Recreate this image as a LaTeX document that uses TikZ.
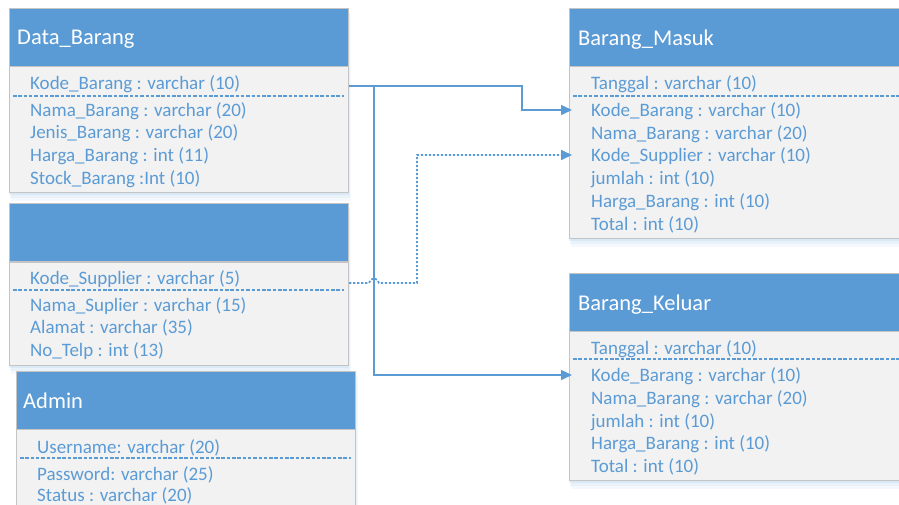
\documentclass[tikz,border=0pt]{standalone}
\usepackage{fontspec}
\setmainfont{Carlito}
\usetikzlibrary{arrows.meta,calc}
\definecolor{hdr}{HTML}{5B9BD5}
\definecolor{bodyfill}{HTML}{F2F2F2}
\definecolor{edge}{HTML}{C4C4C4}
\definecolor{txt}{HTML}{5B9BD5}

\tikzset{
  bodybox/.style={draw=edge, line width=1.2pt, fill=bodyfill, anchor=north west, inner sep=0pt},
  hdrbox/.style={draw=edge, line width=1.2pt, fill=hdr, anchor=north west, inner sep=0pt, minimum height=58pt},
  title/.style={anchor=west, inner sep=0pt, text=white, font=\fontsize{22.5}{24}\selectfont, text height=14pt, text depth=0pt},
  row/.style={anchor=west, inner sep=0pt, text=txt, font=\fontsize{19}{21}\selectfont, text height=12pt, text depth=0pt},
  sep/.style={draw=txt, line width=1.3pt, dash pattern=on 3.5pt off 1.8pt},
  link/.style={draw=hdr, line width=1.5pt},
  fklink/.style={draw=hdr, line width=1.7pt, dash pattern=on 2.2pt off 1.8pt},
  tip/.style={-{Triangle[length=11pt,width=10pt]}},
}

% soft shadow under a table: #1 = north west corner, #2 = south east corner
\newcommand\softshadow[2]{%
  \fill[hdr, opacity=0.06] ($#1+(2,6)$) rectangle ($#2+(3,9)$);
  \fill[hdr, opacity=0.08] ($#1+(1,4)$) rectangle ($#2+(2,6)$);
  \fill[hdr, opacity=0.10] ($#1+(0,2)$) rectangle ($#2+(1,3)$);
}

\begin{document}
\begin{tikzpicture}[x=1pt, y=-1pt]
\useasboundingbox (0,0) rectangle (899,504);
\clip (0,0) rectangle (899,504);

% shadows
\softshadow{(9,8)}{(348,192)}
\softshadow{(9,203)}{(348,365)}
\softshadow{(16,371)}{(355,540)}
\softshadow{(569,8)}{(930,238)}
\softshadow{(569,273)}{(930,480)}

% ---------- Data_Barang ----------
\node[bodybox, minimum width=339pt, minimum height=126pt] (db) at (9,66) {};
\node[hdrbox, minimum width=339pt] (dbh) at (9,8) {};
\node[title] (dbt) at (17,37) {Data\_Barang};
\node[row] (db1) at (30,83)  {Kode\_Barang : varchar (10)};
\node[row] (db2) at (30,110) {Nama\_Barang : varchar (20)};
\node[row] (db3) at (30,132) {Jenis\_Barang : varchar (20)};
\node[row] (db4) at (30,155) {Harga\_Barang : int (11)};
\node[row] (db5) at (30,178) {Stock\_Barang :Int (10)};
\draw[sep] (13,96) -- (344,96);

% ---------- Supplier ----------
\node[bodybox, minimum width=339pt, minimum height=103pt] (sp) at (9,262) {};
\node[hdrbox, minimum width=339pt] (sph) at (9,203) {};
\node[row] (sp1) at (30,278) {Kode\_Supplier : varchar (5)};
\node[row] (sp2) at (30,305) {Nama\_Suplier : varchar (15)};
\node[row] (sp3) at (30,327) {Alamat : varchar (35)};
\node[row] (sp4) at (30,350) {No\_Telp : int (13)};
\draw[sep] (13,290) -- (344,290);

% ---------- Admin ----------
\node[bodybox, minimum width=339pt, minimum height=120pt] (ad) at (16,429) {};
\node[hdrbox, minimum width=339pt] (adh) at (16,371) {};
\node[title] (adt) at (23,401) {Admin};
\node[row] (ad1) at (37,447) {Username: varchar (20)};
\node[row] (ad2) at (37,474) {Password: varchar (25)};
\node[row] (ad3) at (37,495) {Status : varchar (20)};
\draw[sep] (20,458) -- (351,458);

% ---------- Barang_Masuk ----------
\node[bodybox, minimum width=360pt, minimum height=172pt] (bm) at (569,66) {};
\node[hdrbox, minimum width=360pt] (bmh) at (569,8) {};
\node[title] (bmt) at (578,38) {Barang\_Masuk};
\node[row] (bm1) at (591,83)  {Tanggal : varchar (10)};
\node[row] (bm2) at (591,110) {Kode\_Barang : varchar (10)};
\node[row] (bm3) at (591,133) {Nama\_Barang : varchar (20)};
\node[row] (bm4) at (591,155) {Kode\_Supplier : varchar (10)};
\node[row] (bm5) at (591,178) {jumlah : int (10)};
\node[row] (bm6) at (591,201) {Harga\_Barang : int (10)};
\node[row] (bm7) at (591,224) {Total : int (10)};
\draw[sep] (573,96) -- (905,96);

% ---------- Barang_Keluar ----------
\node[bodybox, minimum width=360pt, minimum height=149pt] (bk) at (569,331) {};
\node[hdrbox, minimum width=360pt] (bkh) at (569,273) {};
\node[title] (bkt) at (578,303) {Barang\_Keluar};
\node[row] (bk1) at (591,348) {Tanggal : varchar (10)};
\node[row] (bk2) at (591,375) {Kode\_Barang : varchar (10)};
\node[row] (bk3) at (591,398) {Nama\_Barang : varchar (20)};
\node[row] (bk4) at (591,421) {jumlah : int (10)};
\node[row] (bk5) at (591,443) {Harga\_Barang : int (10)};
\node[row] (bk6) at (591,466) {Total : int (10)};
\draw[sep] (573,359) -- (905,359);

% ---------- relations ----------
% Kode_Barang -> Barang_Masuk
\draw[link, tip] ([yshift=-3pt]db1.west -| db.east) -- (522,86) |- ([xshift=3pt]bm2.west -| bm.west);
% Kode_Barang -> Barang_Keluar
\draw[link, tip] (374,86) |- ([xshift=3pt]bk2.west -| bk.west);
% Kode_Supplier -> Barang_Masuk (dotted, hopping over the solid line)
\draw[fklink, tip] ([yshift=-5pt]sp1.west -| sp.east) -- (369,283)
  .. controls (370,277) and (378,277) .. (379,283)
  -- (417,283) |- ([xshift=3pt]bm4.west -| bm.west);
\end{tikzpicture}
\end{document}
